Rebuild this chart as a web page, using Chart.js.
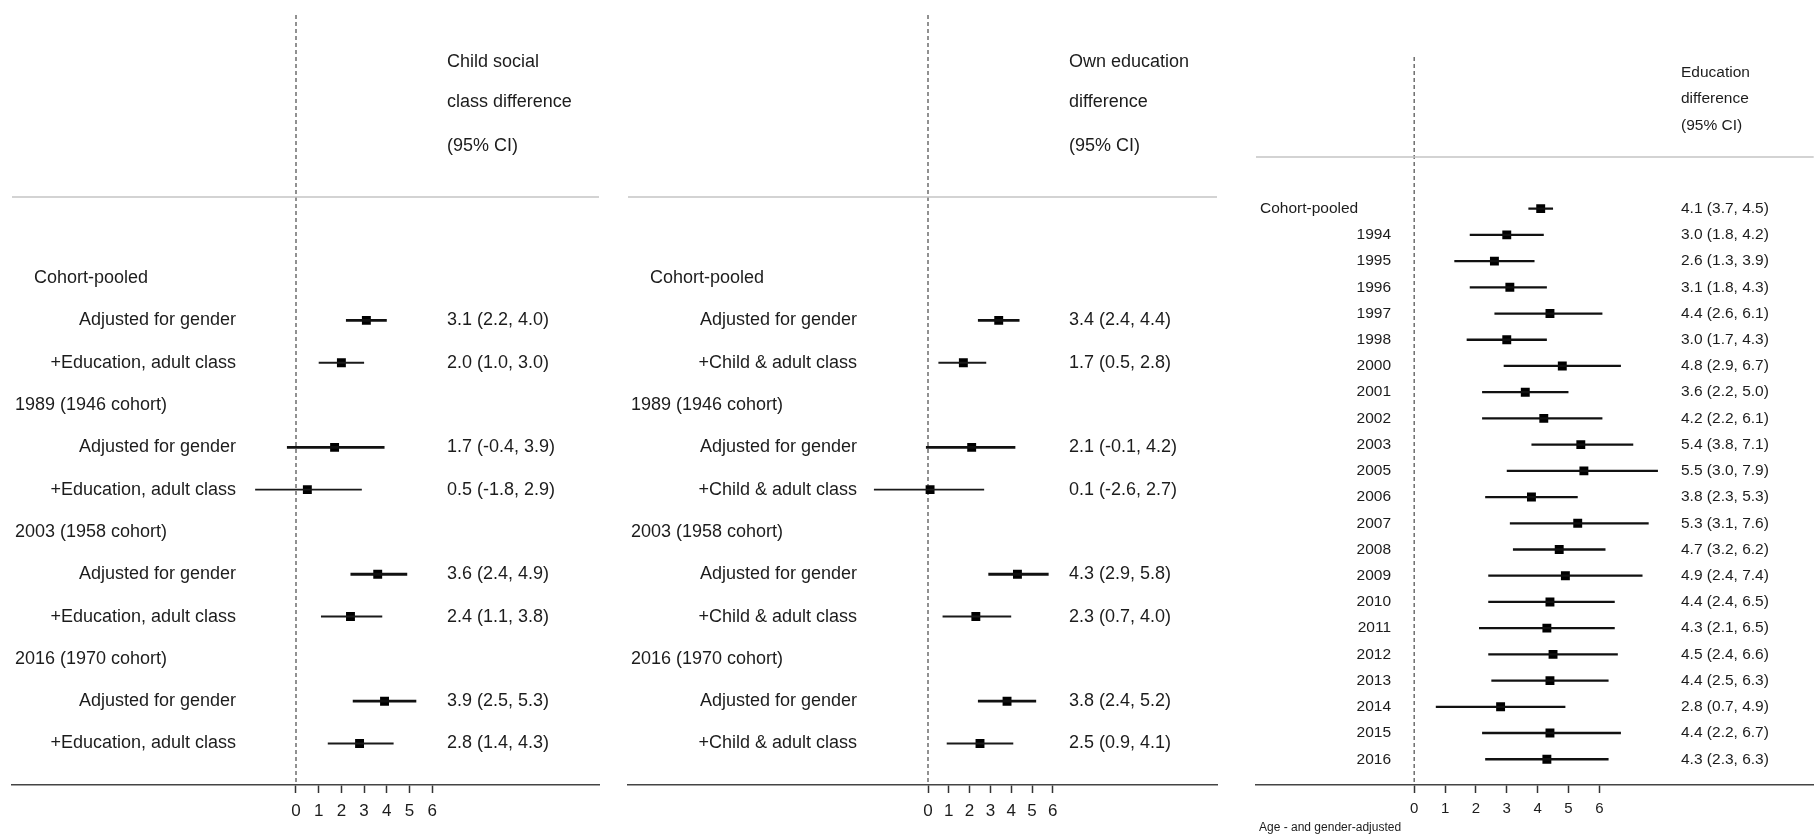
<!DOCTYPE html>
<html>
<head>
<meta charset="utf-8">
<script src="https://cdn.jsdelivr.net/npm/chart.js@4.4.0/dist/chart.umd.min.js"></script>
<style>
  html, body { margin: 0; padding: 0; background: #fff; }
  #wrap { position: relative; width: 1820px; height: 835px; overflow: hidden; }
  canvas { position: absolute; top: 0; }
</style>
</head>
<body>
<div id="wrap">
  <canvas id="panel_class" width="612" height="835"></canvas>
  <canvas id="panel_edu" width="612" height="835"></canvas>
  <canvas id="panel_years" width="576" height="835"></canvas>
</div>
<script>
/* ---- data ---- */
const groups = ['Cohort-pooled', '1989 (1946 cohort)', '2003 (1958 cohort)', '2016 (1970 cohort)'];

const class_header = ['Child social', 'class difference', '(95% CI)'];
const class_models = ['Adjusted for gender', '+Education, adult class'];
const class_est = [3.1, 2.0, 1.7, 0.5, 3.6, 2.4, 3.9, 2.8];
const class_lo  = [2.2, 1.0, -0.4, -1.8, 2.4, 1.1, 2.5, 1.4];
const class_hi  = [4.0, 3.0, 3.9, 2.9, 4.9, 3.8, 5.3, 4.3];

const edu_header = ['Own education', 'difference', '(95% CI)'];
const edu_models = ['Adjusted for gender', '+Child & adult class'];
const edu_est = [3.4, 1.7, 2.1, 0.1, 4.3, 2.3, 3.8, 2.5];
const edu_lo  = [2.4, 0.5, -0.1, -2.6, 2.9, 0.7, 2.4, 0.9];
const edu_hi  = [4.4, 2.8, 4.2, 2.7, 5.8, 4.0, 5.2, 4.1];

const year_header = ['Education', 'difference', '(95% CI)'];
const years    = ['Cohort-pooled', '1994', '1995', '1996', '1997', '1998', '2000', '2001', '2002', '2003', '2005',
                  '2006', '2007', '2008', '2009', '2010', '2011', '2012', '2013', '2014', '2015', '2016'];
const year_est = [4.1, 3.0, 2.6, 3.1, 4.4, 3.0, 4.8, 3.6, 4.2, 5.4, 5.5, 3.8, 5.3, 4.7, 4.9, 4.4, 4.3, 4.5, 4.4, 2.8, 4.4, 4.3];
const year_lo  = [3.7, 1.8, 1.3, 1.8, 2.6, 1.7, 2.9, 2.2, 2.2, 3.8, 3.0, 2.3, 3.1, 3.2, 2.4, 2.4, 2.1, 2.4, 2.5, 0.7, 2.2, 2.3];
const year_hi  = [4.5, 4.2, 3.9, 4.3, 6.1, 4.3, 6.7, 5.0, 6.1, 7.1, 7.9, 5.3, 7.6, 6.2, 7.4, 6.5, 6.5, 6.6, 6.3, 4.9, 6.7, 6.3];
const year_note = 'Age - and gender-adjusted';

const tick_values = [0, 1, 2, 3, 4, 5, 6];

/* ---- look ---- */
const FONT = '"Liberation Sans", Arial, sans-serif';
const TXT = '#1c1c1c';

// page-pixel layout for each panel
const layout_class = {
  canvas: 'panel_class', left: 0, width: 612,
  areaLeft: 12, areaRight: 599, zeroX: 296, unitX: 22.7,
  firstRowY: 274, rowStep: 42.65, axisY: 785, dashTop: 15, sepY: 197,
  groupCenterX: 91, labelRightX: 236, valueX: 447, headerY: [62, 102, 146],
  font: 18, tickFont: 17, tickPad: 8, thick: 2.8, thin: 1.9
};
const layout_edu = {
  canvas: 'panel_edu', left: 616, width: 612,
  areaLeft: 628, areaRight: 1217, zeroX: 928, unitX: 20.8,
  firstRowY: 274, rowStep: 42.65, axisY: 785, dashTop: 15, sepY: 197,
  groupCenterX: 707, labelRightX: 857, valueX: 1069, headerY: [62, 102, 146],
  font: 18, tickFont: 17, tickPad: 8, thick: 2.8, thin: 1.9
};
const layout_years = {
  canvas: 'panel_years', left: 1244, width: 576,
  areaLeft: 1256, areaRight: 1820, zeroX: 1416, unitX: 31.2,
  firstRowY: 204, rowStep: 26.43, axisY: 785, dashTop: 57, sepY: 157,
  pooledLeftX: 1260, labelRightX: 1391, valueX: 1681, headerY: [73, 99, 126],
  font: 15.5, tickFont: 15, tickPad: 7, thick: 2.3, thin: 2.3,
  noteX: 1259, noteY: 828
};

function fmt(v) { return v.toFixed(1); }

function nested_rows(models, est, lo, hi) {
  var rows = [];
  groups.forEach((g, gi) => {
    rows.push({ kind: 'group', label: g });
    models.forEach((m, mi) => {
      var k = gi * models.length + mi;
      rows.push({ kind: 'model', label: m, est: est[k], lo: lo[k], hi: hi[k], thick: mi === 0 });
    });
  });
  return rows;
}

function year_rows() {
  return years.map((y, i) => ({
    kind: i === 0 ? 'pooled' : 'year', label: y,
    est: year_est[i], lo: year_lo[i], hi: year_hi[i], thick: true
  }));
}

function text_plugin(cfg, rows, header, note) {
  return {
    id: 'forest_text_' + cfg.canvas,
    beforeDatasetsDraw(chart) {
      var ctx = chart.ctx, area = chart.chartArea;
      var x0 = chart.scales.x.getPixelForValue(0);
      ctx.save();
      // dashed reference line at zero
      ctx.strokeStyle = '#6e6e6e';
      ctx.lineWidth = 1.5;
      ctx.setLineDash([4, 3]);
      ctx.beginPath();
      ctx.moveTo(x0, cfg.dashTop);
      ctx.lineTo(x0, area.bottom);
      ctx.stroke();
      // header separator
      ctx.setLineDash([]);
      ctx.strokeStyle = '#c4c4c4';
      ctx.lineWidth = 1.6;
      ctx.beginPath();
      ctx.moveTo(area.left, cfg.sepY);
      ctx.lineTo(area.right, cfg.sepY);
      ctx.stroke();
      ctx.restore();
    },
    afterDraw(chart) {
      var ctx = chart.ctx, ys = chart.scales.y;
      var off = cfg.left;
      ctx.save();
      ctx.fillStyle = TXT;
      ctx.textBaseline = 'middle';
      ctx.font = cfg.font + 'px ' + FONT;

      header.forEach((h, i) => {
        ctx.textAlign = 'left';
        ctx.fillText(h, cfg.valueX - off, cfg.headerY[i]);
      });

      rows.forEach((r, i) => {
        var y = ys.getPixelForValue(i);
        if (r.kind === 'group') {
          ctx.textAlign = 'center';
          ctx.fillText(r.label, cfg.groupCenterX - off, y);
        } else if (r.kind === 'pooled') {
          ctx.textAlign = 'left';
          ctx.fillText(r.label, cfg.pooledLeftX - off, y);
        } else {
          ctx.textAlign = 'right';
          ctx.fillText(r.label, cfg.labelRightX - off, y);
        }
        if (r.est !== undefined) {
          ctx.textAlign = 'left';
          ctx.fillText(fmt(r.est) + ' (' + fmt(r.lo) + ', ' + fmt(r.hi) + ')', cfg.valueX - off, y);
        }
      });

      if (note) {
        ctx.font = '12px ' + FONT;
        ctx.textAlign = 'left';
        ctx.fillText(note, cfg.noteX - off, cfg.noteY);
      }
      ctx.restore();
    }
  };
}

function make_forest(cfg, rows, header, note) {
  var canvas = document.getElementById(cfg.canvas);
  canvas.style.left = cfg.left + 'px';

  var padL = cfg.areaLeft - cfg.left;
  var padR = cfg.left + cfg.width - cfg.areaRight;
  var xMin = -(cfg.zeroX - cfg.areaLeft) / cfg.unitX;
  var xMax = xMin + (cfg.areaRight - cfg.areaLeft) / cfg.unitX;
  var yMin = -cfg.firstRowY / cfg.rowStep;
  var yMax = yMin + cfg.axisY / cfg.rowStep;

  var ci = (thick) => rows
    .map((r, i) => ({ r: r, i: i }))
    .filter(o => o.r.est !== undefined && o.r.thick === thick)
    .map(o => ({ x: [o.r.lo, o.r.hi], y: o.i }));

  var points = rows
    .map((r, i) => ({ r: r, i: i }))
    .filter(o => o.r.est !== undefined)
    .map(o => ({ x: o.r.est, y: o.i }));

  return new Chart(canvas, {
    type: 'bar',
    data: {
      datasets: [
        { type: 'bar', indexAxis: 'y', data: ci(true), backgroundColor: '#111',
          borderWidth: 0, grouped: false, maxBarThickness: cfg.thick },
        { type: 'bar', indexAxis: 'y', data: ci(false), backgroundColor: '#1a1a1a',
          borderWidth: 0, grouped: false, maxBarThickness: cfg.thin },
        { type: 'scatter', data: points, pointStyle: 'rect', pointRadius: 6.3,
          backgroundColor: '#000', borderWidth: 0 }
      ]
    },
    options: {
      responsive: false,
      animation: false,
      indexAxis: 'y',
      devicePixelRatio: 1,
      layout: { padding: { left: padL, right: padR, top: 0, bottom: 0 } },
      plugins: { legend: { display: false }, tooltip: { enabled: false } },
      scales: {
        x: {
          type: 'linear', min: xMin, max: xMax, offset: false,
          afterBuildTicks: s => { s.ticks = tick_values.map(v => ({ value: v })); },
          afterFit: s => { s.height = 835 - cfg.axisY; },
          grid: { offset: false, drawOnChartArea: false, drawTicks: true, tickLength: 8, tickColor: '#333', tickWidth: 1.5 },
          border: { display: true, color: '#444', width: 1.5 },
          ticks: { color: TXT, font: { family: FONT, size: cfg.tickFont }, padding: cfg.tickPad,
                   maxRotation: 0, autoSkip: false, callback: v => String(v) }
        },
        y: { type: 'linear', reverse: true, min: yMin, max: yMax, offset: false,
             grid: { offset: false }, display: false }
      }
    },
    plugins: [text_plugin(cfg, rows, header, note)]
  });
}

make_forest(layout_class, nested_rows(class_models, class_est, class_lo, class_hi), class_header);
make_forest(layout_edu, nested_rows(edu_models, edu_est, edu_lo, edu_hi), edu_header);
make_forest(layout_years, year_rows(), year_header, year_note);
</script>
</body>
</html>
